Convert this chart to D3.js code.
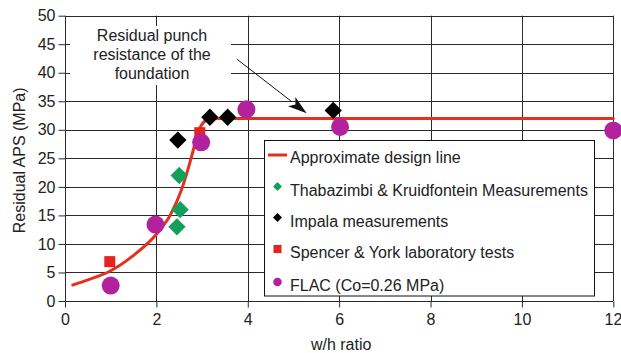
<!DOCTYPE html>
<html>
<head>
<meta charset="utf-8">
<script src="https://cdn.jsdelivr.net/npm/d3@7"></script>
<style>
  html, body { margin: 0; padding: 0; background: #fff; }
  svg { display: block; font-family: "Liberation Sans", Arial, Helvetica, sans-serif; }
</style>
</head>
<body>
<svg id="chart" width="621" height="353"></svg>
<script>
// Axis ticks
const xTicks = [0, 2, 4, 6, 8, 10, 12];
const yTicks = [0, 5, 10, 15, 20, 25, 30, 35, 40, 45, 50];

// Approximate design line (w/h ratio, residual APS in MPa)
const designX = [0.17, 0.5, 1.0, 1.5, 2.0, 2.3, 2.55, 2.77, 2.9, 3.0, 3.14, 3.4, 12];
const designY = [2.8, 3.7, 5.3, 8.0, 11.7, 15.0, 19.5, 25.3, 29.2, 31.0, 31.8, 32, 32];

// Thabazimbi & Kruidfontein measurements
const thabX = [2.45, 2.52, 2.5];
const thabY = [13.0, 16.0, 22.0];

// Impala measurements
const impalaX = [2.47, 3.17, 3.56, 5.87];
const impalaY = [28.2, 32.2, 32.2, 33.4];

// Spencer & York laboratory tests
const spencerX = [0.98, 2.95];
const spencerY = [6.9, 29.5];

// FLAC model results (Co = 0.26 MPa)
const flacX = [1.0, 1.98, 2.98, 3.97, 6.02, 12.0];
const flacY = [2.7, 13.4, 27.8, 33.6, 30.5, 29.9];

// Annotation arrow, in data units
const arrowFrom = [3.76, 42.4];
const arrowTo = [5.29, 32.9];
const noteLines = ["Residual punch", "resistance of the", "foundation"];

const legendItems = [
  { label: "Approximate design line", kind: "line", color: "#e4301f" },
  { label: "Thabazimbi & Kruidfontein Measurements", kind: "diamond", color: "#13a05b" },
  { label: "Impala measurements", kind: "diamond", color: "#000000" },
  { label: "Spencer & York laboratory tests", kind: "square", color: "#e5231f" },
  { label: "FLAC (Co=0.26 MPa)", kind: "circle", color: "#b1229c" }
];

const svg = d3.select("#chart");
const textColor = "#222";
const gridColor = "#2a2a2a";
const fontSize = 16;

const x = d3.scaleLinear().domain([0, 12]).range([65, 613.3]);
const y = d3.scaleLinear().domain([0, 50]).range([301, 15.7]);

// Grid
const grid = svg.append("g");
grid.selectAll("line.h").data(yTicks).join("line")
  .attr("x1", x(0)).attr("x2", x(12))
  .attr("y1", d => Math.round(y(d)) + 0.5).attr("y2", d => Math.round(y(d)) + 0.5)
  .attr("stroke", gridColor).attr("stroke-width", 1);
grid.selectAll("line.v").data(xTicks).join("line")
  .attr("y1", y(0)).attr("y2", y(50))
  .attr("x1", d => Math.round(x(d)) + 0.5).attr("x2", d => Math.round(x(d)) + 0.5)
  .attr("stroke", gridColor).attr("stroke-width", 1);

// Axes
const xAxis = d3.axisBottom(x).tickValues(xTicks).tickSize(6).tickPadding(6);
const yAxis = d3.axisLeft(y).tickValues(yTicks).tickSize(7).tickPadding(3);

const gx = svg.append("g").attr("transform", `translate(0,${Math.round(y(0)) + 0.5})`).call(xAxis);
const gy = svg.append("g").attr("transform", `translate(${Math.round(x(0)) + 0.5},0)`).call(yAxis);
[gx, gy].forEach(g => {
  g.select(".domain").remove();
  g.selectAll(".tick line").attr("stroke", gridColor);
  g.selectAll(".tick text").attr("fill", textColor).attr("font-size", fontSize)
    .attr("font-family", "'Liberation Sans', Arial, Helvetica, sans-serif");
});
// keep the last x label inside the page edge
gx.selectAll(".tick text").filter(d => d === 12).attr("text-anchor", "end").attr("dx", 8.5);

// Axis titles
svg.append("text")
  .attr("x", x(6) + 2).attr("y", 350)
  .attr("text-anchor", "middle").attr("font-size", fontSize).attr("fill", textColor)
  .text("w/h ratio");
svg.append("text")
  .attr("transform", `translate(25,${(y(0) + y(50)) / 2 + 2}) rotate(-90)`)
  .attr("text-anchor", "middle").attr("font-size", fontSize).attr("fill", textColor)
  .text("Residual APS (MPa)");

// Annotation note with a white backing
svg.append("rect")
  .attr("x", 70).attr("y", 26).attr("width", 161).attr("height", 59)
  .attr("fill", "#fff");
svg.append("text")
  .attr("text-anchor", "middle").attr("font-size", fontSize).attr("fill", textColor)
  .selectAll("tspan").data(noteLines).join("tspan")
  .attr("x", 152).attr("y", (d, i) => 40.5 + i * 19)
  .text(d => d);

// Arrow
const ax1 = x(arrowFrom[0]), ay1 = y(arrowFrom[1]);
const ax2 = x(arrowTo[0]), ay2 = y(arrowTo[1]);
const ang = Math.atan2(ay2 - ay1, ax2 - ax1);
const headLen = 19, headHalf = 6;
const bx = ax2 - headLen * Math.cos(ang), by = ay2 - headLen * Math.sin(ang);
svg.append("line")
  .attr("x1", ax1).attr("y1", ay1).attr("x2", bx).attr("y2", by)
  .attr("stroke", "#111").attr("stroke-width", 1);
svg.append("path")
  .attr("d", d3.line()([
    [ax2, ay2],
    [bx + headHalf * Math.sin(ang), by - headHalf * Math.cos(ang)],
    [ax2 - 0.75 * headLen * Math.cos(ang), ay2 - 0.75 * headLen * Math.sin(ang)],
    [bx - headHalf * Math.sin(ang), by + headHalf * Math.cos(ang)]
  ]) + "Z")
  .attr("fill", "#111");

// Design line
const designPts = designX.map((d, i) => [d, designY[i]]);
svg.append("path")
  .attr("d", d3.line().x(d => x(d[0])).y(d => y(d[1])).curve(d3.curveMonotoneX)(designPts))
  .attr("fill", "none").attr("stroke", "#e4301f").attr("stroke-width", 3)
  .attr("stroke-linecap", "round");

// Markers
function drawSymbols(xs, ys, type, size, color) {
  svg.append("g").selectAll("path").data(xs.map((d, i) => [d, ys[i]])).join("path")
    .attr("transform", d => `translate(${x(d[0])},${y(d[1])})`)
    .attr("d", d3.symbol().type(type).size(size))
    .attr("fill", color);
}
const diamond = {
  draw(ctx, size) {
    const r = Math.sqrt(size) / 2;
    ctx.moveTo(0, -r); ctx.lineTo(r, 0); ctx.lineTo(0, r); ctx.lineTo(-r, 0); ctx.closePath();
  }
};
drawSymbols(thabX, thabY, diamond, 300, "#13a05b");
drawSymbols(impalaX, impalaY, diamond, 300, "#000000");
drawSymbols(spencerX, spencerY, d3.symbolSquare, 121, "#e5231f");
drawSymbols(flacX, flacY, d3.symbolCircle, Math.PI * 81, "#b1229c");

// Legend
const legend = svg.append("g");
legend.append("rect")
  .attr("x", 264.5).attr("y", 140.5).attr("width", 330).attr("height", 155.5)
  .attr("fill", "#fff").attr("stroke", "#111").attr("stroke-width", 1);
const rowY = [157, 189.5, 220.5, 252, 285];
legendItems.forEach((item, i) => {
  const cy = rowY[i];
  const g = legend.append("g");
  if (item.kind === "line") {
    g.append("line").attr("x1", 268).attr("x2", 287).attr("y1", cy - 2).attr("y2", cy - 2)
      .attr("stroke", item.color).attr("stroke-width", 3);
  } else {
    const t = item.kind === "diamond" ? diamond : item.kind === "square" ? d3.symbolSquare : d3.symbolCircle;
    const s = item.kind === "diamond" ? 80 : item.kind === "square" ? 64 : Math.PI * 18;
    g.append("path").attr("transform", `translate(277.5,${cy - 3})`)
      .attr("d", d3.symbol().type(t).size(s)).attr("fill", item.color);
  }
  g.append("text").attr("x", 290).attr("y", cy + 6)
    .attr("font-size", fontSize).attr("fill", textColor).text(item.label);
});
</script>
</body>
</html>
